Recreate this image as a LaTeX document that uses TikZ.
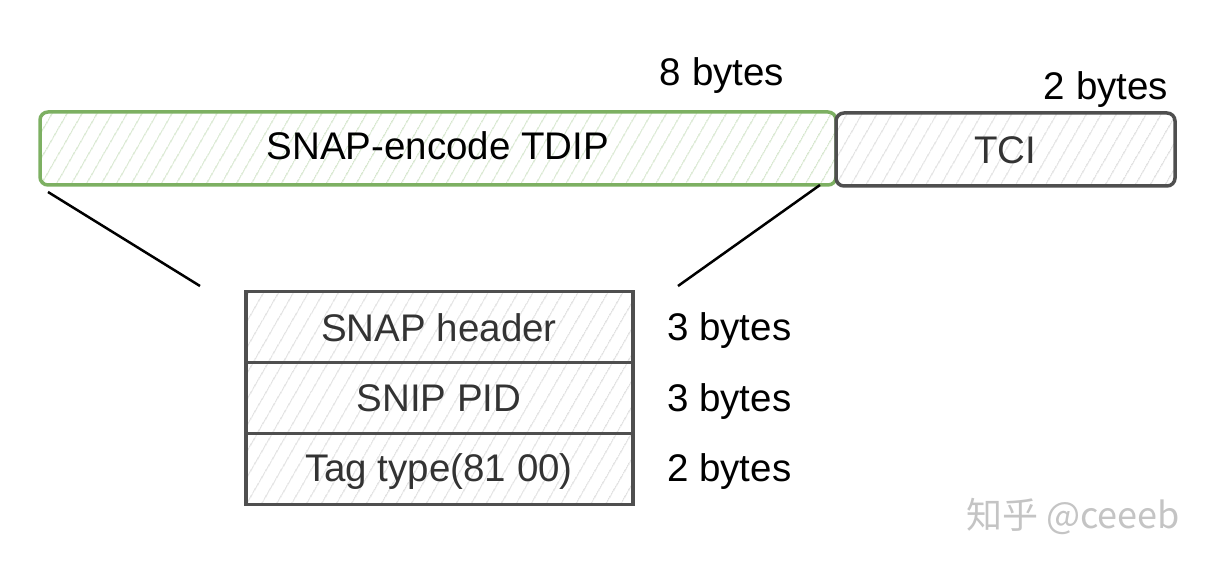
\documentclass[tikz,border=0pt]{standalone}
\usepackage{fontspec}
\setmainfont{Liberation Sans}
\newfontfamily\cjkwm{Noto Sans CJK SC}
\usetikzlibrary{patterns.meta}
\definecolor{grnline}{HTML}{7DB062}
\definecolor{grnhatch}{HTML}{BFD9B2}
\definecolor{gryline}{HTML}{4F4F4F}
\definecolor{gryhatch}{HTML}{CFCFCF}
\definecolor{txtdark}{HTML}{333333}
\definecolor{wmgray}{HTML}{C4C4C4}
\tikzset{
  big/.style={font=\fontsize{38.5}{46}\selectfont},
  greenbox/.style={draw=grnline, line width=3.5pt, rounded corners=8pt,
    pattern={Lines[angle=60, distance=13pt, line width=1pt]}, pattern color=grnhatch,
    inner sep=0pt, big, text=black},
  graybox/.style={draw=gryline, line width=3.5pt, rounded corners=8pt,
    pattern={Lines[angle=60, distance=13pt, line width=1pt]}, pattern color=gryhatch,
    inner sep=0pt, big, text=txtdark},
  rowbox/.style={draw=gryline, line width=3.5pt,
    pattern={Lines[angle=60, distance=13pt, line width=1pt]}, pattern color=gryhatch,
    inner sep=0pt, minimum width=387pt, minimum height=71pt, text=txtdark},
  lbl/.style={big, text=black, inner sep=0pt, anchor=base},
  zoomline/.style={draw=black, line width=2.5pt},
}
\begin{document}
\begin{tikzpicture}[x=1pt, y=-1pt]
\useasboundingbox (0,0) rectangle (1217,564);
% top boxes
\node[greenbox, minimum width=796pt, minimum height=73pt] (tdip) at (438,148.5) {};
\node[graybox, minimum width=339pt, minimum height=73pt] (tci) at (1005.5,149.5) {};
\node[lbl, text=black] (tdiptxt) at (438,160) {SNAP-encode TDIP};
\node[lbl, text=txtdark] (tcitxt) at (1005,164) {TCI};
\node[lbl] (b8) at (722,86) {8 bytes};
\node[lbl] (b2top) at (1106,100) {2 bytes};
% lower rows
\node[rowbox] (r1) at (439.5,327) {};
\node[rowbox] (r2) at (439.5,398) {};
\node[rowbox] (r3) at (439.5,469) {};
\node[lbl, text=txtdark] (t1) at (439,341) {SNAP header};
\node[lbl, text=txtdark] (t2) at (439,411) {SNIP PID};
\node[lbl, text=txtdark] (t3) at (439,481) {Tag type(81 00)};
\node[lbl, anchor=base west] (s1) at (667,340) {3 bytes};
\node[lbl, anchor=base west] (s2) at (667,411) {3 bytes};
\node[lbl, anchor=base west] (s3) at (667,481) {2 bytes};
% zoom lines
\coordinate (la) at (48,192);
\coordinate (lb) at (200,286);
\coordinate (ra) at (820,185);
\coordinate (rb) at (678,286);
\draw[zoomline] (la) -- (lb);
\draw[zoomline] (ra) -- (rb);
% watermark
\node[anchor=base west, inner sep=0pt, text=wmgray, font=\cjkwm\fontsize{36}{42}\selectfont] (wm) at (966,528) {知乎 @ceeeb};
\end{tikzpicture}
\end{document}
